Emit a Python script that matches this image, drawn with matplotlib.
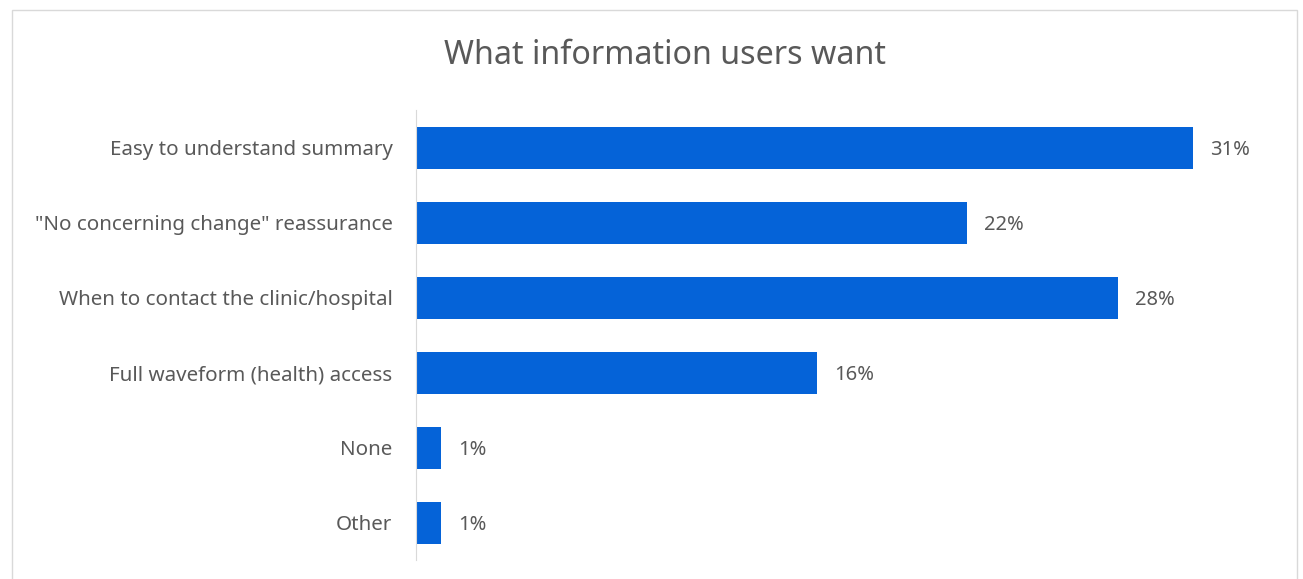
import matplotlib.pyplot as plt
from matplotlib.patches import Rectangle

# survey answers, top to bottom
categories = [
    "Easy to understand summary",
    "\"No concerning change\" reassurance",
    "When to contact the clinic/hospital",
    "Full waveform (health) access",
    "None",
    "Other",
]
shares = [31, 22, 28, 16, 1, 1]

plt.rcParams['font.family'] = ['Noto Sans', 'DejaVu Sans']
text_grey = '#595959'
bar_blue = '#0563d8'

fig = plt.figure(figsize=(13.03, 5.79), dpi=100)
# thin grey frame around the chart area
fig.patches.append(Rectangle((12 / 1303, -0.05), 1285 / 1303, 1.0 - 10 / 579 + 0.05,
                             transform=fig.transFigure, fill=False,
                             edgecolor='#d9d9d9', linewidth=1.0))

ax = fig.add_axes([416 / 1303, 19 / 579, 844 / 1303, 450 / 579])
ypos = list(range(len(categories)))
ax.barh(ypos, shares, height=0.56, color=bar_blue)
ax.set_ylim(len(categories) - 0.5, -0.5)
ax.set_xlim(0, 33.68)

for y, v in zip(ypos, shares):
    ax.text(v + 0.68, y, f"{v}%", va='center_baseline', ha='left',
            fontsize=14.5, color=text_grey)

ax.set_yticks(ypos)
ax.set_yticklabels(categories, fontsize=14.8, color=text_grey)
ax.tick_params(axis='y', length=0, pad=17)
ax.set_xticks([])
for side in ('top', 'right', 'bottom'):
    ax.spines[side].set_visible(False)
ax.spines['left'].set_color('#d9d9d9')

fig.text(665 / 1303, 1 - 55 / 579, "What information users want",
         ha='center', va='center', fontsize=23.2, color=text_grey)

fig.savefig('out.png', dpi=100)
